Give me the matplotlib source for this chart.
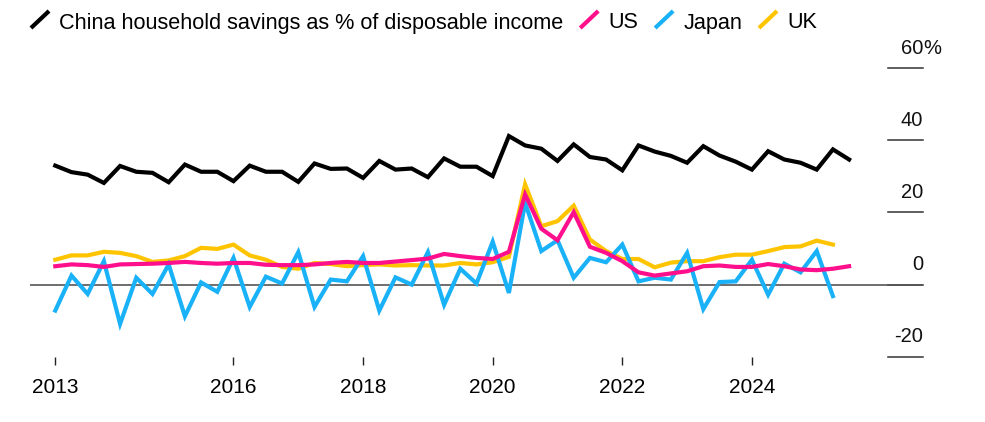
import matplotlib
matplotlib.use("Agg")
import matplotlib.pyplot as plt
from matplotlib.lines import Line2D
import matplotlib.transforms as mtransforms

plt.rcParams["font.family"] = ["Liberation Sans", "DejaVu Sans"]

# quarterly, first point = Q1 2013 (plotted at quarter end)
start = 2013.25

china = [33.0, 31.2, 30.5, 28.2, 32.9, 31.3, 31.0, 28.4, 33.3, 31.3,
         31.3, 28.7, 33.0, 31.3, 31.3, 28.5, 33.6, 32.1, 32.2, 29.6,
         34.3, 31.9, 32.2, 29.8, 35.0, 32.7, 32.7, 30.1, 41.2, 38.6,
         37.7, 34.3, 38.9, 35.4, 34.7, 31.7, 38.6, 36.9, 35.7, 33.8,
         38.4, 35.8, 34.1, 31.9, 37.0, 34.7, 33.8, 31.9, 37.5, 34.7]
us = [5.1, 5.6, 5.4, 4.9, 5.6, 5.7, 5.8, 6.0, 6.3, 6.0,
      5.8, 6.0, 6.0, 5.5, 5.4, 5.4, 5.6, 6.0, 6.3, 6.0,
      6.0, 6.4, 6.8, 7.2, 8.5, 7.9, 7.4, 7.1, 9.1, 25.0,
      15.5, 12.3, 20.1, 10.5, 8.8, 6.5, 3.4, 2.5, 3.1, 3.7,
      5.1, 5.3, 4.9, 4.9, 5.7, 5.1, 4.2, 4.0, 4.4, 5.1]
japan = [-7.2, 2.5, -2.6, 6.5, -10.9, 1.9, -2.6, 5.6, -8.8, 0.6,
         -2.0, 7.4, -6.2, 2.2, 0.3, 9.0, -6.2, 1.4, 0.9, 7.9,
         -7.2, 2.0, 0.0, 9.0, -5.6, 4.4, 0.3, 11.9, -2.3, 22.7,
         9.3, 12.3, 1.9, 7.4, 6.2, 11.1, 0.9, 1.9, 1.4, 8.8,
         -6.8, 0.7, 0.9, 6.9, -2.8, 5.8, 3.4, 9.3, -3.2]
uk = [6.9, 8.1, 8.1, 9.1, 8.8, 7.9, 6.3, 6.7, 7.9, 10.2,
      9.9, 11.1, 8.1, 6.9, 4.9, 4.4, 6.0, 5.7, 5.1, 5.4,
      5.6, 5.3, 5.4, 5.3, 5.3, 6.0, 5.6, 6.2, 7.7, 27.8,
      16.2, 17.6, 21.9, 12.5, 9.3, 7.1, 7.1, 4.8, 6.1, 6.5,
      6.5, 7.6, 8.3, 8.3, 9.3, 10.4, 10.6, 12.2, 11.1]

tick_pos = [2013.25, 2016, 2018, 2020, 2022, 2024]
tick_labels = ["2013", "2016", "2018", "2020", "2022", "2024"]
y_ticks = [-20, 0, 20, 40, 60]

C_BLACK = "#000000"
C_US = "#ff0f8c"
C_JP = "#19b1f7"
C_UK = "#ffc400"


def xs(vals):
    return [start + 0.25 * i for i in range(len(vals))]


fig = plt.figure(figsize=(9.85, 4.22), dpi=100)
ax = fig.add_axes([30 / 985, 1 - 356.7 / 422, 893 / 985, (356.7 - 68.3) / 422])

ax.plot(xs(uk), uk, color=C_UK, lw=3, solid_joinstyle="miter", zorder=3)
ax.plot(xs(japan), japan, color=C_JP, lw=3, solid_joinstyle="miter", zorder=4)
ax.plot(xs(us), us, color=C_US, lw=3, solid_joinstyle="miter", zorder=5)
ax.plot(xs(china), china, color=C_BLACK, lw=3, solid_joinstyle="miter", zorder=6)

ax.set_xlim(2012.86, 2026.64)
ax.set_ylim(-20, 60)
ax.axhline(0, color="#555555", lw=1.2, zorder=2)

for s in ax.spines.values():
    s.set_visible(False)

ax.set_xticks(tick_pos)
ax.set_xticklabels(tick_labels, fontsize=15)
ax.tick_params(axis="x", length=6, width=1, color="#222222", pad=9)
ax.set_yticks([])

# short grid segments + labels on the right
trans = mtransforms.blended_transform_factory(ax.transAxes, ax.transData)
for v in y_ticks:
    ax.plot([0.961, 1.0], [v, v], color="#333333", lw=1.1, transform=trans,
            clip_on=False, zorder=1)
    ax.text(1.0, v + 5.5, str(v), transform=trans, ha="right", va="center",
            fontsize=14.5, color="#111111")
ax.text(1.0, 60 + 5.5, "%", transform=trans, ha="left", va="center",
        fontsize=14.5, color="#111111")

# legend across the top
fig.canvas.draw()
renderer = fig.canvas.get_renderer()
items = [("China household savings as % of disposable income", C_BLACK),
         ("US", C_US), ("Japan", C_JP), ("UK", C_UK)]
x_px = 31
base_y = 422 - 28.5
for label, col in items:
    fig.add_artist(Line2D([x_px / 985, (x_px + 18) / 985],
                          [(base_y + 0.5) / 422, (base_y + 17.5) / 422],
                          color=col, lw=3, solid_capstyle="butt"))
    t = fig.text((x_px + 28) / 985, base_y / 422, label, fontsize=15.6,
                 va="baseline", ha="left", color="#000000")
    bb = t.get_window_extent(renderer)
    x_px = bb.x1 + 17

fig.savefig("out.png", dpi=100)
